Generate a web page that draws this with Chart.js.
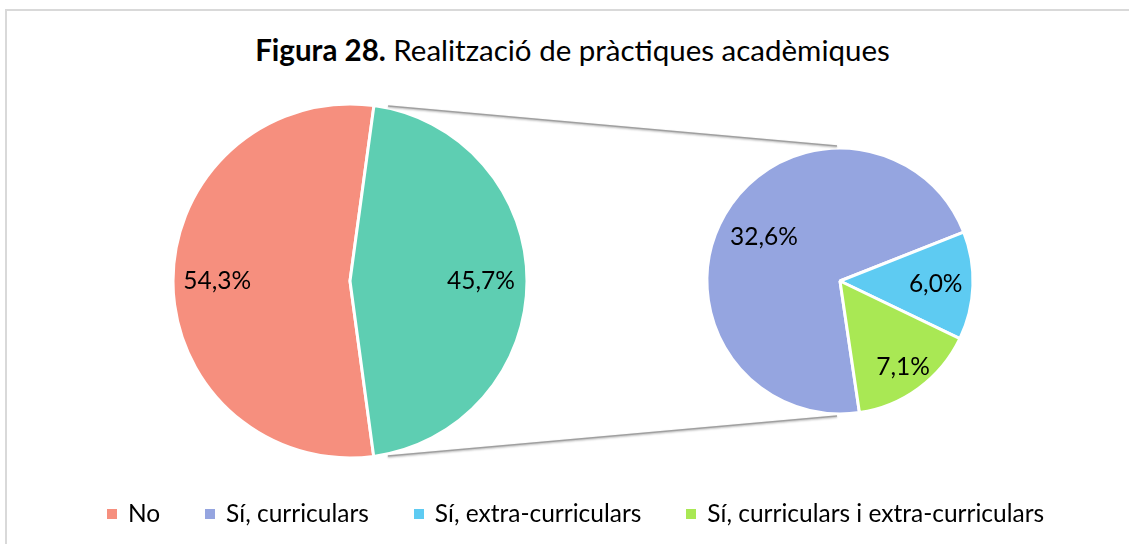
<!DOCTYPE html>
<html lang="ca">
<head>
<meta charset="UTF-8">
<title>Figura 28</title>
<script src="https://cdn.jsdelivr.net/npm/chart.js"></script>
<style>
  body { margin: 0; background: #fff; font-family: Lato, "Open Sans", sans-serif; }
  #wrap { position: relative; width: 1129px; height: 544px; overflow: hidden; }
  .frame { position: absolute; left: 5px; top: 9px; width: 1200px; height: 600px;
           border-top: 2px solid #d9d9d9; border-left: 2px solid #d9d9d9; }
  .title { position: absolute; left: 8px; top: 31px; width: 1129px; text-align: center;
           font-size: 29.5px; line-height: 38px; color: #000; }
  canvas { position: absolute; }
  .legend { position: absolute; left: 11px; top: 499px; width: 1129px; display: flex;
            justify-content: center; gap: 45px; font-size: 24.5px; line-height: 28px; color: #000; }
  .legend span.sq { display: inline-block; width: 10px; height: 10px; margin-right: 11px; vertical-align: 3px; }
</style>
</head>
<body>
<div id="wrap">
  <div class="frame"></div>
  <div class="title"><b>Figura 28.</b> Realització de pràctiques acadèmiques</div>
  <canvas id="mainPie" width="400" height="400" style="left:150px; top:81px;"></canvas>
  <canvas id="subPie" width="300" height="300" style="left:690px; top:131px;"></canvas>
  <canvas id="links" width="1129" height="544" style="left:0; top:0; pointer-events:none;"></canvas>
  <div class="legend" id="legend"></div>
</div>

<script>
// Data
const mainLabels = ['No', 'Sí'];
const mainValues = [54.3, 45.7];
const subLabels = ['Sí, curriculars', 'Sí, extra-curriculars', 'Sí, curriculars i extra-curriculars'];
const subValues = [32.6, 6.0, 7.1];

const mainColors = ['#F68F7E', '#5ECEB2'];
const subColors = ['#95A5E0', '#5ECBF2', '#A9E854'];

// percentage labels inside the slices
const pctLabels = {
    id: 'pctLabels',
    afterDatasetsDraw(chart, args, opts) {
        const ctx = chart.ctx;
        const meta = chart.getDatasetMeta(0);
        const data = chart.data.datasets[0].data;
        ctx.save();
        ctx.font = opts.font;
        ctx.fillStyle = '#000';
        ctx.textAlign = 'center';
        ctx.textBaseline = 'middle';
        meta.data.forEach((arc, i) => {
            const p = arc.getProps(['x', 'y', 'startAngle', 'endAngle', 'outerRadius']);
            const mid = (p.startAngle + p.endAngle) / 2;
            const r = p.outerRadius * opts.radii[i];
            const txt = data[i].toFixed(1).replace('.', ',') + '%';
            ctx.fillText(txt, p.x + Math.cos(mid) * r, p.y + Math.sin(mid) * r);
        });
        ctx.restore();
    }
};

function pieOptions(rotation, radius, radii) {
    return {
        responsive: false,
        animation: false,
        rotation: rotation,
        radius: radius,
        layout: { padding: 0 },
        plugins: {
            legend: { display: false },
            tooltip: { enabled: false },
            pctLabels: { font: '24.5px Lato, "Open Sans", sans-serif', radii: radii }
        }
    };
}

const mainChart = new Chart(document.getElementById('mainPie'), {
    type: 'pie',
    data: {
        labels: mainLabels,
        datasets: [{
            data: mainValues,
            backgroundColor: mainColors,
            borderColor: '#fff',
            borderWidth: 3,
            hoverOffset: 0
        }]
    },
    options: pieOptions(172.3, 177, [0.75, 0.74]),
    plugins: [pctLabels]
});

const subChart = new Chart(document.getElementById('subPie'), {
    type: 'pie',
    data: {
        labels: subLabels,
        datasets: [{
            data: subValues,
            backgroundColor: subColors,
            borderColor: '#fff',
            borderWidth: 3,
            hoverOffset: 0
        }]
    },
    options: pieOptions(171.6, 133, [0.66, 0.72, 0.8]),
    plugins: [pctLabels]
});

// connector lines between the "Sí" slice and the second pie
function drawLinks() {
    const lc = document.getElementById('links').getContext('2d');
    const mainEl = document.getElementById('mainPie');
    const subEl = document.getElementById('subPie');
    const arc = mainChart.getDatasetMeta(0).data[1].getProps(['x', 'y', 'startAngle', 'endAngle', 'outerRadius']);
    const sub = subChart.getDatasetMeta(0).data[0].getProps(['x', 'y', 'outerRadius']);
    const mx = mainEl.offsetLeft + arc.x, my = mainEl.offsetTop + arc.y;
    const sx = subEl.offsetLeft + sub.x, sy = subEl.offsetTop + sub.y;
    const r = arc.outerRadius + 2;
    const off = 4.5 * Math.PI / 180;
    lc.save();
    lc.strokeStyle = '#a0a0a0';
    lc.lineWidth = 1.5;
    lc.shadowColor = 'rgba(0,0,0,0.3)';
    lc.shadowBlur = 2;
    lc.shadowOffsetY = 1;
    lc.beginPath();
    lc.moveTo(mx + Math.cos(arc.startAngle + off) * r, my + Math.sin(arc.startAngle + off) * r);
    lc.lineTo(sx - 3, sy - sub.outerRadius - 2);
    lc.moveTo(mx + Math.cos(arc.endAngle - off) * r, my + Math.sin(arc.endAngle - off) * r);
    lc.lineTo(sx - 3, sy + sub.outerRadius + 2);
    lc.stroke();
    lc.restore();
}
drawLinks();

// legend
const legend = document.getElementById('legend');
const legendItems = [[mainLabels[0], mainColors[0]]].concat(subLabels.map((l, i) => [l, subColors[i]]));
legendItems.forEach(([label, color]) => {
    const item = document.createElement('div');
    item.innerHTML = '<span class="sq" style="background:' + color + '"></span>' + label;
    legend.appendChild(item);
});
</script>
</body>
</html>
